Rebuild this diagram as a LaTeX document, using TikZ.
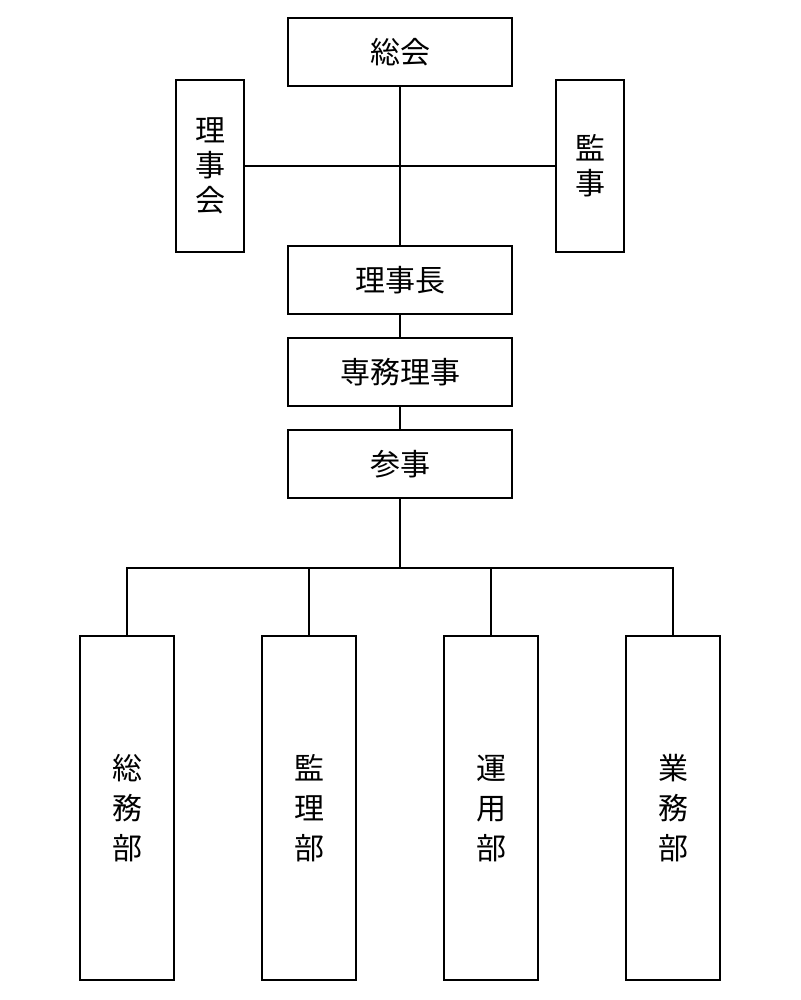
\documentclass[tikz,border=0pt]{standalone}
\usepackage{fontspec}
\newfontfamily\cjk{Noto Sans CJK JP}
\begin{document}
\begin{tikzpicture}[x=0.5pt,y=-0.5pt,line width=0.9pt,
  box/.style={draw,inner sep=0pt,font=\cjk\fontsize{15}{17.5}\selectfont,align=center},
  wide/.style={box,minimum width=112pt,minimum height=34pt},
  tall/.style={box,minimum width=34pt,minimum height=86pt},
  dept/.style={box,minimum width=47pt,minimum height=172pt,font=\cjk\fontsize{15}{20}\selectfont}]
\useasboundingbox (0,0) rectangle (800,1000);
\node[wide] (sokai) at (400,52) {総会};
\node[tall] (rijikai) at (210,166) {理\\事\\会};
\node[tall] (kanji) at (590,166) {監\\事};
\node[wide] (rijicho) at (400,280) {理事長};
\node[wide] (senmu) at (400,372) {専務理事};
\node[wide] (sanji) at (400,464) {参事};
\node[dept] (d1) at (127,808) {総\\務\\部};
\node[dept] (d2) at (309,808) {監\\理\\部};
\node[dept] (d3) at (491,808) {運\\用\\部};
\node[dept] (d4) at (673,808) {業\\務\\部};
\coordinate (j) at (400,568);
\draw (sokai) -- (rijicho);
\draw (rijikai.east) -- (kanji.west);
\draw (rijicho) -- (senmu);
\draw (senmu) -- (sanji);
\draw (sanji) -- (j);
\draw (d1.north) -- (127,568) -- (673,568) -- (d4.north);
\draw (d2.north) -- (309,568);
\draw (d3.north) -- (491,568);
\end{tikzpicture}
\end{document}
